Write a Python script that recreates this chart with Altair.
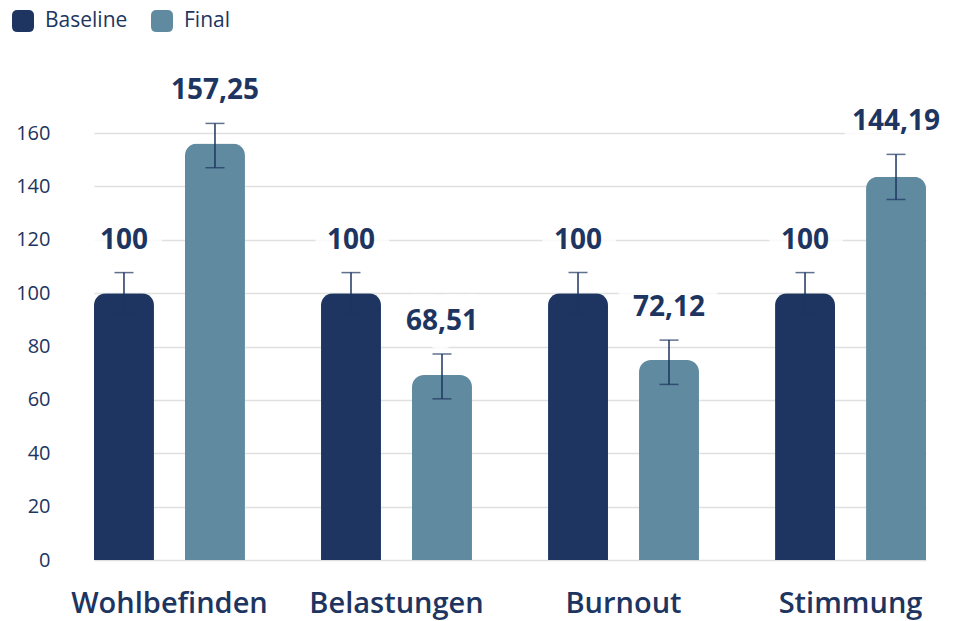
import altair as alt
import pandas as pd

categories = ["Wohlbefinden", "Belastungen", "Burnout", "Stimmung"]
series = ["Baseline", "Final"]
colors = ["#1d3560", "#608aa0"]

baseline_values = [100, 100, 100, 100]
final_values = [156.1, 69.3, 74.9, 143.6]
baseline_err_lo = [92.3, 92.3, 92.3, 92.3]
baseline_err_hi = [107.7, 107.7, 107.7, 107.7]
final_err_lo = [147.0, 60.4, 65.8, 135.1]
final_err_hi = [163.6, 77.2, 82.4, 152.0]
baseline_labels = ["100", "100", "100", "100"]
final_labels = ["157,25", "68,51", "72,12", "144,19"]

y_ticks = [0, 20, 40, 60, 80, 100, 120, 140, 160]

rows = []
for i, c in enumerate(categories):
    rows.append(dict(category=c, series="Baseline", value=baseline_values[i],
                     lo=baseline_err_lo[i], hi=baseline_err_hi[i], label=baseline_labels[i]))
    rows.append(dict(category=c, series="Final", value=final_values[i],
                     lo=final_err_lo[i], hi=final_err_hi[i], label=final_labels[i]))
df = pd.DataFrame(rows)

NAVY = "#1d3560"
FONT = "Open Sans"

round_square = ("M -1 -0.5 Q -1 -1 -0.5 -1 L 0.5 -1 Q 1 -1 1 -0.5 L 1 0.5 "
                "Q 1 1 0.5 1 L -0.5 1 Q -1 1 -1 0.5 Z")

base = alt.Chart(df).encode(
    x=alt.X("category:N", sort=categories, title=None,
            scale=alt.Scale(range=[36, 868], paddingInner=0.335, paddingOuter=0),
            axis=alt.Axis(labelAngle=0, domain=False, ticks=False, grid=False,
                          labelFontSize=29, labelFontWeight=600, labelColor=NAVY,
                          labelPadding=29, labelFont=FONT, labelLimit=400)),
    xOffset=alt.XOffset("series:N", sort=series,
                        scale=alt.Scale(paddingInner=0.341, paddingOuter=0)),
)

bars = base.mark_bar(cornerRadiusTopLeft=12, cornerRadiusTopRight=12).encode(
    y=alt.Y("value:Q", title=None,
            scale=alt.Scale(domain=[0, 175], nice=False),
            axis=alt.Axis(values=y_ticks, domain=False, ticks=False, grid=True,
                          gridColor="#e0e0e0", gridWidth=1.5,
                          labelFontSize=20, labelColor=NAVY, labelFont=FONT,
                          labelPadding=8, minExtent=50, maxExtent=50)),
    color=alt.Color("series:N", sort=series,
                    scale=alt.Scale(domain=series, range=colors),
                    legend=alt.Legend(orient="none", legendX=-46, legendY=-83,
                                      direction="horizontal", title=None,
                                      symbolType=round_square, symbolSize=484,
                                      symbolStrokeWidth=0, symbolOpacity=1,
                                      labelFontSize=21, labelColor=NAVY, labelFont=FONT,
                                      labelOffset=11, columnPadding=23)),
)

err_rule = base.mark_rule(color=NAVY, strokeWidth=1.5).encode(
    y="lo:Q", y2="hi:Q")
cap_lo = base.mark_tick(color=NAVY, thickness=1.5, size=19).encode(y="lo:Q")
cap_hi = base.mark_tick(color=NAVY, thickness=1.5, size=19).encode(y="hi:Q")

halo = base.mark_text(dy=-32, baseline="middle", fontSize=28, fontWeight="bold",
                      font=FONT, fill="white", stroke="white", strokeWidth=30,
                      strokeJoin="round", opacity=0.85).encode(
    y="hi:Q", text="label:N")
labels = base.mark_text(dy=-32, baseline="middle", fontSize=28, fontWeight="bold",
                        font=FONT, color=NAVY).encode(
    y="hi:Q", text="label:N")

chart = alt.layer(bars, err_rule, cap_lo, cap_hi, halo, labels).properties(
    width=882, height=467,
    padding={"left": 0, "top": 2, "right": 0, "bottom": 12}
).configure(font=FONT).configure_view(stroke=None)

chart.save("out.html", embed_options={"renderer": "svg", "actions": False})
